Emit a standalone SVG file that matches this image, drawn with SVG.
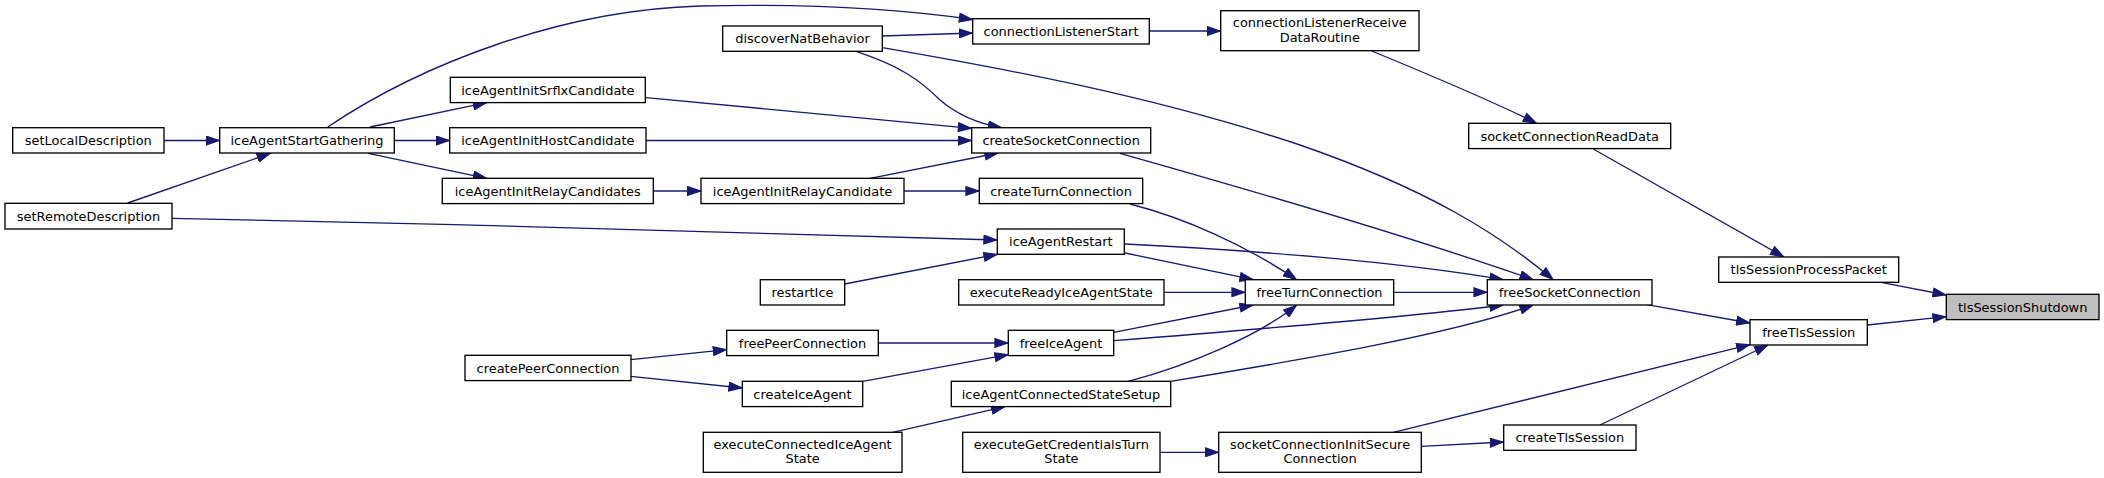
<svg xmlns="http://www.w3.org/2000/svg" width="2104" height="478" viewBox="0 0 2104 478">
<style>
.n rect{fill:#fff;stroke:#000;stroke-width:1.33}
.n.hl rect{fill:#bfbfbf}
.n text{font-family:"DejaVu Sans",sans-serif;font-size:12.95px;text-anchor:middle;fill:#000}
.e path{fill:none;stroke:#191970;stroke-width:1.33;marker-end:url(#ah)}
</style>
<defs>
<marker id="ah" markerUnits="userSpaceOnUse" viewBox="0 0 14 10" markerWidth="14" markerHeight="10" refX="14" refY="5" orient="auto">
<path d="M0.7,0.7 L13.3,5 L0.7,9.3 z" fill="#191970" stroke="#191970" stroke-width="1.33"/>
</marker>
</defs>
<rect width="2104" height="478" fill="#fff"/>
<g id="edges" class="e">
<path d="M164,140.5 L219.7,140.5"/>
<path d="M127.7,203 L270.5,153.3"/>
<path d="M172,218.3 C450,224 800,233 997.3,240"/>
<path d="M327.7,127 C420,65 560,10 700,6 C830,3 920,12 972.7,19.5"/>
<path d="M370,127 L486.7,102.7"/>
<path d="M394.3,140.5 L449.7,140.5"/>
<path d="M368.3,153.3 L486.7,178.3"/>
<path d="M646,97.7 L971.7,128.3"/>
<path d="M646,140.5 L971.7,140.5"/>
<path d="M653.3,191 L701,191"/>
<path d="M870,178.3 L998.3,153"/>
<path d="M904,191 L979.3,191"/>
<path d="M882.3,36 L972.7,33"/>
<path d="M856.7,51.7 C900,66 920,80 940,100 C960,117 980,124 1001.7,127.7"/>
<path d="M882.3,47.7 C1000,68 1150,95 1300,145 C1430,190 1500,235 1553.3,279.7"/>
<path d="M1149.3,31 L1220.7,31"/>
<path d="M1371.7,51 C1430,75 1490,100 1536.7,123.3"/>
<path d="M1593.3,149 L1784,257"/>
<path d="M1882.3,282.7 L1946.3,295"/>
<path d="M1867.3,325 L1946.3,316.7"/>
<path d="M1120,153.3 C1250,190 1420,240 1533.3,279.7"/>
<path d="M1130,204 C1185,218 1245,245 1296.7,279.7"/>
<path d="M1125,253 L1253.3,279.7"/>
<path d="M1125,244 C1250,250 1400,262 1503.3,279.7"/>
<path d="M844.7,284 L997.3,254.3"/>
<path d="M1164,292.3 L1245.3,292.3"/>
<path d="M1393.7,292.3 L1487.3,292.3"/>
<path d="M1113.7,332.3 L1253.3,305"/>
<path d="M1113.7,340.7 C1250,330 1400,318 1503.3,305"/>
<path d="M1128.3,381.3 C1190,365 1260,335 1296.7,305"/>
<path d="M1170.7,381.3 C1300,360 1450,335 1533.3,305"/>
<path d="M878.3,343 L1008.3,343"/>
<path d="M862.7,381.3 L1008.3,354.7"/>
<path d="M631,359.7 L726.7,349.7"/>
<path d="M631,376.3 L742.3,388"/>
<path d="M892.7,432.3 L1005,406.7"/>
<path d="M1160,452.3 L1218.7,452.3"/>
<path d="M1393.3,432.3 L1750,344.7"/>
<path d="M1421.3,446.3 L1503.7,442"/>
<path d="M1600,425 L1768,345"/>
<path d="M1646.7,304.7 L1750,323"/>
</g>
<g id="setLocalDescription" class="n"><rect x="12.7" y="127.7" width="151.3" height="25.3"/><text x="88.3" y="145">setLocalDescription</text></g>
<g id="iceAgentStartGathering" class="n"><rect x="219.7" y="127.7" width="174.6" height="25.3"/><text x="307" y="145">iceAgentStartGathering</text></g>
<g id="setRemoteDescription" class="n"><rect x="5" y="203.3" width="167" height="25.7"/><text x="88.5" y="220.8">setRemoteDescription</text></g>
<g id="iceAgentInitSrflxCandidate" class="n"><rect x="450.3" y="77.3" width="195" height="25.3"/><text x="547.8" y="94.6">iceAgentInitSrflxCandidate</text></g>
<g id="iceAgentInitHostCandidate" class="n"><rect x="449.7" y="127.7" width="196.3" height="25.3"/><text x="547.8" y="145">iceAgentInitHostCandidate</text></g>
<g id="iceAgentInitRelayCandidates" class="n"><rect x="442.3" y="178.3" width="211" height="25.3"/><text x="547.8" y="195.6">iceAgentInitRelayCandidates</text></g>
<g id="discoverNatBehavior" class="n"><rect x="722.7" y="26" width="159.6" height="25.3"/><text x="802.5" y="43.3">discoverNatBehavior</text></g>
<g id="connectionListenerStart" class="n"><rect x="972.7" y="18.7" width="176.6" height="25.3"/><text x="1061" y="36">connectionListenerStart</text></g>
<g id="createSocketConnection" class="n"><rect x="971.7" y="127.7" width="179" height="25.3"/><text x="1061.2" y="145">createSocketConnection</text></g>
<g id="iceAgentInitRelayCandidate" class="n"><rect x="701" y="178.3" width="203" height="25.3"/><text x="802.5" y="195.6">iceAgentInitRelayCandidate</text></g>
<g id="createTurnConnection" class="n"><rect x="979.3" y="178.3" width="163.4" height="25.3"/><text x="1061" y="195.6">createTurnConnection</text></g>
<g id="iceAgentRestart" class="n"><rect x="997.3" y="229" width="127" height="25.3"/><text x="1060.8" y="246.3">iceAgentRestart</text></g>
<g id="restartIce" class="n"><rect x="760.3" y="279.7" width="84.4" height="25.3"/><text x="802.5" y="297">restartIce</text></g>
<g id="executeReadyIceAgentState" class="n"><rect x="958.7" y="279.7" width="205.3" height="25.3"/><text x="1061.3" y="297">executeReadyIceAgentState</text></g>
<g id="freePeerConnection" class="n"><rect x="726.7" y="330.3" width="151.6" height="25.3"/><text x="802.5" y="347.6">freePeerConnection</text></g>
<g id="freeIceAgent" class="n"><rect x="1008.3" y="330.3" width="105.4" height="25.3"/><text x="1061" y="347.6">freeIceAgent</text></g>
<g id="createIceAgent" class="n"><rect x="742.3" y="381.3" width="120.4" height="25.3"/><text x="802.5" y="398.6">createIceAgent</text></g>
<g id="iceAgentConnectedStateSetup" class="n"><rect x="951.3" y="381.3" width="219.4" height="25.3"/><text x="1061" y="398.6">iceAgentConnectedStateSetup</text></g>
<g id="executeConnectedIceAgentState" class="n"><rect x="703.3" y="432.3" width="198.7" height="40"/><text x="802.6" y="448.6">executeConnectedIceAgent</text><text x="802.6" y="463.3">State</text></g>
<g id="executeGetCredentialsTurnState" class="n"><rect x="962.7" y="432.3" width="197.3" height="40"/><text x="1061.3" y="448.6">executeGetCredentialsTurn</text><text x="1061.3" y="463.3">State</text></g>
<g id="createPeerConnection" class="n"><rect x="465" y="355.3" width="166" height="25.3"/><text x="548" y="372.6">createPeerConnection</text></g>
<g id="connectionListenerReceiveDataRoutine" class="n"><rect x="1220.7" y="10.7" width="198.3" height="40"/><text x="1319.8" y="27">connectionListenerReceive</text><text x="1319.8" y="41.7">DataRoutine</text></g>
<g id="freeTurnConnection" class="n"><rect x="1245.3" y="279.7" width="148.4" height="25.3"/><text x="1319.5" y="297">freeTurnConnection</text></g>
<g id="socketConnectionInitSecureConnection" class="n"><rect x="1218.7" y="432.3" width="202.6" height="40"/><text x="1320" y="448.6">socketConnectionInitSecure</text><text x="1320" y="463.3">Connection</text></g>
<g id="socketConnectionReadData" class="n"><rect x="1468.7" y="123.3" width="202" height="25.3"/><text x="1569.7" y="140.6">socketConnectionReadData</text></g>
<g id="freeSocketConnection" class="n"><rect x="1487.3" y="279.7" width="164.7" height="25.3"/><text x="1569.7" y="297">freeSocketConnection</text></g>
<g id="createTlsSession" class="n"><rect x="1503.7" y="425" width="132.3" height="25.3"/><text x="1569.8" y="442.3">createTlsSession</text></g>
<g id="tlsSessionProcessPacket" class="n"><rect x="1718.7" y="257" width="180" height="25.3"/><text x="1808.7" y="274.3">tlsSessionProcessPacket</text></g>
<g id="freeTlsSession" class="n"><rect x="1750" y="319.7" width="117.3" height="25.3"/><text x="1808.7" y="337">freeTlsSession</text></g>
<g id="tlsSessionShutdown" class="n hl"><rect x="1946.3" y="294.3" width="152.7" height="25.3"/><text x="2022.7" y="311.6">tlsSessionShutdown</text></g>
</svg>
